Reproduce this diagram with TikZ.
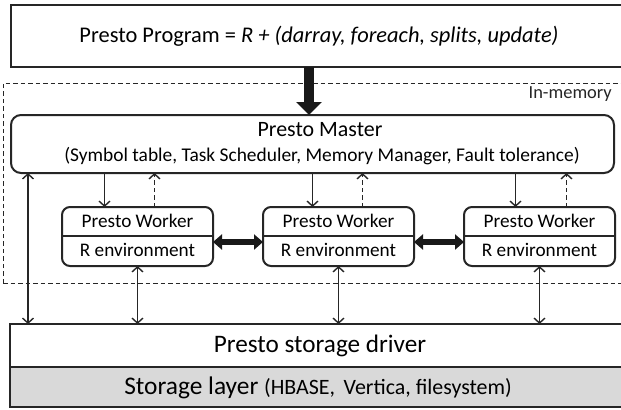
\documentclass[tikz,border=0pt]{standalone}
\usepackage{fontspec}
\setmainfont{Carlito}
\usetikzlibrary{arrows.meta}
\begin{document}
\begin{tikzpicture}[x=1bp,y=-1bp,
  frame/.style={draw=black!85, line width=2bp, inner sep=0pt, outer sep=0pt},
  worker/.style={frame, rounded corners=8bp, minimum width=151bp, minimum height=59bp},
  thin/.style={draw=black!85, line width=1.4bp},
  updash/.style={thin, dash pattern=on 4.5bp off 3bp, -{Straight Barb[length=5bp,width=11bp]}},
  down/.style={thin, -{Straight Barb[length=5bp,width=11bp]}},
  both/.style={thin, {Straight Barb[length=5bp,width=11bp]}-{Straight Barb[length=5bp,width=11bp]}},
  fat/.style={draw=black!90, line width=6bp, {Triangle[length=9bp,width=15bp]}-{Triangle[length=9bp,width=15bp]}},
  lbl/.style={inner sep=0pt, font=\fontsize{19.3}{21}\selectfont},
]
\useasboundingbox (0,0) rectangle (621,409);
\clip (0,0) rectangle (621,409);
\fill[white] (0,0) rectangle (621,409);

% in-memory region
\draw[black!85, line width=0.9bp, dash pattern=on 4.5bp off 3bp] (3,283) -- (3,83) -- (640,83);
\draw[black!85, line width=0.9bp, dash pattern=on 4.5bp off 3bp] (3,283) -- (640,283);
\node[anchor=base east, inner sep=0pt, font=\fontsize{18.5}{20}\selectfont, text=black!85] (mem) at (612,98) {In-memory};

% program box
\node[frame, anchor=north west, minimum width=616bp, minimum height=62bp,
      font=\fontsize{22.5}{26}\selectfont] (prog) at (11,5)
  {Presto Program = \textit{R + (darray, foreach, splits, update)}};

% master
\node[frame, rounded corners=10bp, anchor=north west, minimum width=603bp, minimum height=58bp] (m) at (11,115) {};
\node[inner sep=0pt, font=\fontsize{22}{24}\selectfont] (mt) at (320,130) {Presto Master};
\node[inner sep=0pt, font=\fontsize{19.5}{22}\selectfont] (ms) at (322,156) {(Symbol table, Task Scheduler, Memory Manager, Fault tolerance)};

% workers
\foreach \i/\x in {1/62, 2/263, 3/464}{
  \node[worker, anchor=north west] (w\i) at (\x,207) {};
  \draw[black!85, line width=2bp] (w\i.west |- 0,236) -- (w\i.east |- 0,236);
  \node[lbl] (wt\i) at ([yshift=-14bp]w\i.north) {Presto Worker};
  \node[lbl] (wr\i) at ([yshift=16bp]w\i.south) {R environment};
}

% thick arrow from program to master
\draw[draw=black!90, line width=10bp, -{Triangle[length=13bp,width=25bp]}] (prog.south -| 309,0) -- (m.north -| 309,0);

% master <-> workers
\draw[down] ([xshift=-33bp]m.south -| w1.north) -- ([xshift=-33bp]w1.north);
\draw[updash] ([xshift=17bp]w1.north) -- ([xshift=17bp]m.south -| w1.north);
\draw[down] ([xshift=-26bp]m.south -| w2.north) -- ([xshift=-26bp]w2.north);
\draw[updash] ([xshift=24bp]w2.north) -- ([xshift=24bp]m.south -| w2.north);
\draw[down] ([xshift=-24bp]m.south -| w3.north) -- ([xshift=-24bp]w3.north);
\draw[updash] ([xshift=27bp]w3.north) -- ([xshift=27bp]m.south -| w3.north);

% worker <-> worker
\draw[fat] (w1.east |- 0,242) -- (w2.west |- 0,242);
\draw[fat] (w2.east |- 0,242) -- (w3.west |- 0,242);

% storage
\node[frame, anchor=north west, minimum width=620bp, minimum height=43bp,
      font=\fontsize{25.3}{28}\selectfont] (drv) at (10,324) {Presto storage driver};
\node[frame, fill=black!15, anchor=north west, minimum width=620bp, minimum height=40bp] (sto) at (10,367) {};
\node[inner sep=0pt, anchor=base] (stt) at (318,394)
  {\fontsize{25.5}{28}\selectfont Storage layer \fontsize{22}{24}\selectfont(HBASE,\, Vertica, filesystem)};

% storage connections
\coordinate (lx) at (28,0);
\draw[both] (m.south -| lx) -- (drv.north -| lx);
\draw[both] (w1.south) -- (drv.north -| w1.south);
\draw[both] (w2.south) -- (drv.north -| w2.south);
\draw[both] (w3.south) -- (drv.north -| w3.south);
\end{tikzpicture}
\end{document}
